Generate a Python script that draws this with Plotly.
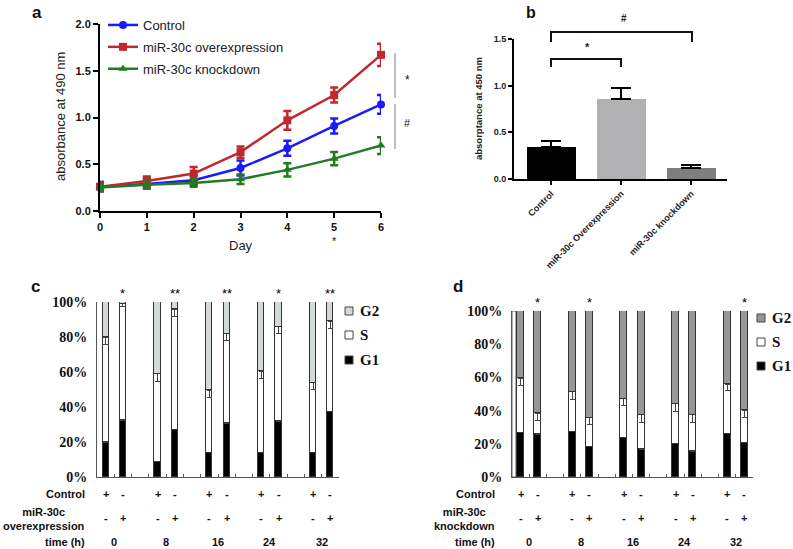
import plotly.graph_objects as go

W, H = 793, 549
def px(x): return x / W
def py(y): return 1 - y / H

SANS = "Liberation Sans, Arial, sans-serif"
SERIF = "Liberation Serif, Times New Roman, serif"

# ---------- Panel a data ----------
days = [0, 1, 2, 3, 4, 5, 6]
a_control = [0.26, 0.29, 0.33, 0.46, 0.67, 0.91, 1.14]
a_control_err = [0.05, 0.05, 0.05, 0.08, 0.08, 0.08, 0.10]
a_over = [0.26, 0.32, 0.40, 0.63, 0.97, 1.24, 1.67]
a_over_err = [0.05, 0.05, 0.07, 0.06, 0.10, 0.08, 0.12]
a_kd = [0.25, 0.28, 0.30, 0.34, 0.44, 0.56, 0.70]
a_kd_err = [0.04, 0.04, 0.04, 0.05, 0.07, 0.07, 0.09]
a_names = ["Control", "miR-30c overexpression", "miR-30c knockdown"]

# ---------- Panel b data ----------
b_cats = ["Control", "miR-30c Overexpression", "miR-30c knockdown"]
b_vals = [0.34, 0.86, 0.12]
b_err = [0.07, 0.11, 0.03]

# ---------- Panel c data (ctrl, over for each time) ----------
times = ["0", "8", "16", "24", "32"]
phase_names = ["G1", "S", "G2"]
c_g1 = [20, 32.5, 8.6, 27, 14, 30.6, 14, 32, 14, 37.3]
c_stop = [80, 99, 59, 96, 49.5, 82, 60.5, 86, 54, 89]
c_g1_err = [4, 4, 4, 4, 4, 4, 4, 4, 4, 4]
c_s_err = [4.5, 1.5, 4.5, 4.5, 4, 4, 4, 4, 4, 4]
c_stars = ["", "*", "", "**", "", "**", "", "*", "", "**"]

# ---------- Panel d data ----------
d_g1 = [26.7, 25.7, 27.3, 18.3, 23.7, 16.7, 20.1, 15.5, 26.2, 20.7]
d_stop = [59.5, 38.4, 51.4, 35.7, 47, 37.6, 44, 37.6, 56, 40.2]
d_g1_err = [4, 4.5, 4, 4.5, 4.5, 4.5, 4, 4, 4, 4]
d_s_err = [4.5, 4.5, 4.5, 4, 4, 4.5, 4.5, 4.5, 4, 4.5]
d_stars = ["", "*", "", "*", "", "", "", "", "", "*"]

control_signs = ["+", "-"] * 5
treat_signs = ["-", "+"] * 5

fig = go.Figure()

# ---- Panel a ----
a_series = [(a_control, a_control_err, "#1a1aff", "circle"),
            (a_over, a_over_err, "#c0282d", "square"),
            (a_kd, a_kd_err, "#237b23", "triangle-up")]
for name, (vals, err, col, sym) in zip(a_names, a_series):
    fig.add_trace(go.Scatter(
        x=days, y=vals, name=name, mode="lines+markers",
        line=dict(color=col, width=2.5),
        marker=dict(color=col, size=8, symbol=sym),
        error_y=dict(type="data", array=err, color=col, thickness=2.5, width=4),
        xaxis="x", yaxis="y", legendgroup=name, cliponaxis=False))

# ---- Panel b ----
fig.add_trace(go.Bar(
    x=[0, 1, 2], y=b_vals, width=0.7,
    marker=dict(color=["#000000", "#b1b1b4", "#7f7f7f"], line=dict(width=0)),
    error_y=dict(type="data", symmetric=False, array=b_err,
                 arrayminus=[0, 0, 0], color="black", thickness=2, width=10),
    xaxis="x2", yaxis="y2", showlegend=False))

# ---- Panels c and d (stacked) ----
pos = []
for i in range(len(times)):
    pos += [3 * i, 3 * i + 1]

def add_stack(g1, stop, g1e, se, xa, ya, cols, bw):
    s = [t - g for t, g in zip(stop, g1)]
    g2 = [100 - t for t in stop]
    ln = dict(color="#333333", width=1)
    fig.add_trace(go.Bar(x=pos, y=g1, name=phase_names[0], width=bw,
                         marker=dict(color=cols[0], line=ln),
                         error_y=dict(type="data", symmetric=False, array=g1e,
                                      arrayminus=[0] * len(g1), color="#444",
                                      thickness=1, width=2.5),
                         xaxis=xa, yaxis=ya, showlegend=False))
    fig.add_trace(go.Bar(x=pos, y=s, name=phase_names[1], width=bw,
                         marker=dict(color=cols[1], line=ln),
                         error_y=dict(type="data", symmetric=False, array=[0] * len(s),
                                      arrayminus=se, color="#444",
                                      thickness=1, width=2.5),
                         xaxis=xa, yaxis=ya, showlegend=False))
    fig.add_trace(go.Bar(x=pos, y=g2, name=phase_names[2], width=bw,
                         marker=dict(color=cols[2], line=ln),
                         xaxis=xa, yaxis=ya, showlegend=False))

c_cols = ["black", "white", "#d3d8da"]
d_cols = ["black", "white", "#979797"]
add_stack(c_g1, c_stop, c_g1_err, c_s_err, "x3", "y3", c_cols, 0.36)
add_stack(d_g1, d_stop, d_g1_err, d_s_err, "x4", "y4", d_cols, 0.4)

ann = []
def A(text, x, y, size=11, font=SANS, bold=True, xanchor="center", xref="paper",
      yref="paper", angle=0, color="#111", yanchor="middle"):
    ann.append(dict(text=text, x=x, y=y, xref=xref, yref=yref, showarrow=False,
                    xanchor=xanchor, yanchor=yanchor, textangle=angle,
                    font=dict(family=font, size=size, color=color,
                              weight="bold" if bold else "normal")))

# panel labels
A("a", px(37), py(12), size=17)
A("b", px(531), py(12), size=16)
A("c", px(35), py(286), size=17)
A("d", px(458), py(286), size=17)

# panel a texts
A("absorbance at 490 nm", px(60), py(117), size=13, bold=False, angle=-90, color="#222")
A("Day", px(241), py(245), size=13, bold=False, color="#222")
A("*", 5, py(241), size=11, bold=False, xref="x", color="#111")
A("*", px(407), py(80), size=12, bold=False, color="#111")
A("#", px(407), py(123), size=11, bold=False, color="#111")

# panel b texts
A("absorptance at 450 nm", px(478), py(109), size=9.5, angle=-90, color="#222")
A("#", px(624), py(19), size=10, color="#222")
A("*", px(587), py(47), size=11, color="#222")

shapes = [
    dict(type="line", xref="paper", yref="paper", x0=px(395), x1=px(395),
         y0=py(53), y1=py(98), line=dict(color="#aaaaaa", width=1.5)),
    dict(type="line", xref="paper", yref="paper", x0=px(395), x1=px(395),
         y0=py(104), y1=py(149), line=dict(color="#aaaaaa", width=1.5)),
    dict(type="path", xref="paper", yref="paper",
         path=f"M{px(551)},{py(42)} L{px(551)},{py(32)} L{px(692)},{py(32)} L{px(692)},{py(42)}",
         line=dict(color="#111", width=2)),
    dict(type="path", xref="paper", yref="paper",
         path=f"M{px(551)},{py(67)} L{px(551)},{py(59)} L{px(621)},{py(59)} L{px(621)},{py(67)}",
         line=dict(color="#111", width=2)),
    dict(type="rect", xref="x4", yref="y4", x0=-0.5, x1=-0.27, y0=0, y1=100,
         line=dict(color="#666", width=1), fillcolor="white", layer="below"),
]

# panel c/d row labels and manual legends
for (xr, lx, stars, sy, treat, cols, legx, legy) in [
        ("x3", 87, c_stars, 293, "miR-30c<br>overexpression", c_cols, 349, [311, 335, 360]),
        ("x4", 497, d_stars, 303, "miR-30c<br>knockdown", d_cols, 761, [318, 342, 366])]:
    A("Control", px(lx), py(494), size=11, xanchor="right")
    A(treat, px(lx), py(519), size=11, xanchor="right")
    A("time (h)", px(lx), py(542), size=11, xanchor="right")
    for p, cs, ts, st in zip(pos, control_signs, treat_signs, stars):
        A(cs, p, py(494), size=11, xref=xr)
        A(ts, p, py(518), size=11, xref=xr)
        if st:
            A(st, p, py(sy), size=13, bold=False, xref=xr, color="#000")
    for i, t in enumerate(times):
        A(t, 3 * i + 0.5, py(542), size=11, xref=xr)
    for k, ly in zip([2, 1, 0], legy):
        shapes.append(dict(type="rect", xref="paper", yref="paper",
                           x0=px(legx - 4), x1=px(legx + 4), y0=py(ly + 4), y1=py(ly - 4),
                           fillcolor=cols[k], line=dict(color="#444", width=1)))
        A(phase_names[k], px(legx + 9), py(ly), size=15, font=SERIF, xanchor="left")

tf_a = dict(family=SANS, size=11, color="#111", weight="bold")
tf_b = dict(family=SANS, size=9, color="#222", weight="bold")
tf_c = dict(family=SERIF, size=14, color="#111", weight="bold")

bounds = [k - 0.5 for k in range(15)]

fig.update_layout(
    width=W, height=H, autosize=False,
    margin=dict(l=0, r=0, t=0, b=0, autoexpand=False),
    paper_bgcolor="white", plot_bgcolor="rgba(0,0,0,0)",
    barmode="stack", bargap=0,
    xaxis=dict(domain=[px(100), px(381)], range=[0, 6], anchor="y",
               showline=True, linecolor="black", linewidth=2, ticks="outside",
               ticklen=5, tickwidth=2, tickcolor="black", tickvals=days,
               tickfont=tf_a, showgrid=False, zeroline=False),
    yaxis=dict(domain=[py(211), py(24)], range=[0, 2], anchor="x",
               showline=True, linecolor="black", linewidth=2, ticks="outside",
               ticklen=5, tickwidth=2, tickcolor="black",
               tickvals=[0, 0.5, 1, 1.5, 2], ticktext=["0.0", "0.5", "1.0", "1.5", "2.0"],
               tickfont=tf_a, showgrid=False, zeroline=False),
    xaxis2=dict(domain=[px(514), px(727)], range=[-0.53, 2.51], anchor="y2",
                showline=True, linecolor="black", linewidth=2, ticks="outside",
                ticklen=4, tickwidth=2, tickcolor="black", tickvals=[0, 1, 2],
                ticktext=b_cats, tickangle=-45, tickfont=tf_b,
                showgrid=False, zeroline=False),
    yaxis2=dict(domain=[py(179), py(39)], range=[0, 1.5], anchor="x2",
                showline=True, linecolor="black", linewidth=2, ticks="outside",
                ticklen=4, tickwidth=2, tickcolor="black",
                tickvals=[0, 0.5, 1, 1.5], ticktext=["0.0", "0.5", "1.0", "1.5"],
                tickfont=tf_b, showgrid=False, zeroline=False),
    xaxis3=dict(domain=[px(97), px(339)], range=[-0.5, 13.5], anchor="y3",
                showline=True, linecolor="#555", linewidth=1, ticks="inside",
                ticklen=3, tickcolor="#555", tickvals=bounds, showticklabels=False,
                showgrid=False, zeroline=False),
    yaxis3=dict(domain=[py(477), py(302)], range=[0, 100], anchor="x3",
                showline=True, linecolor="#555", linewidth=1, ticks="",
                tickvals=[0, 20, 40, 60, 80, 100],
                ticktext=["0%", "20%", "40%", "60%", "80%", "100%"],
                tickfont=tf_c, ticklabelstandoff=6, showgrid=False, zeroline=False),
    xaxis4=dict(domain=[px(512), px(753)], range=[-0.5, 13.5], anchor="y4",
                showline=True, linecolor="#555", linewidth=1, ticks="inside",
                ticklen=3, tickcolor="#555", tickvals=bounds, showticklabels=False,
                showgrid=False, zeroline=False),
    yaxis4=dict(domain=[py(477), py(311)], range=[0, 100], anchor="x4",
                showline=True, linecolor="#555", linewidth=1, ticks="",
                tickvals=[0, 20, 40, 60, 80, 100],
                ticktext=["0%", "20%", "40%", "60%", "80%", "100%"],
                tickfont=tf_c, ticklabelstandoff=6, showgrid=False, zeroline=False),
    showlegend=True,
    legend=dict(x=px(103), y=py(10), xanchor="left", yanchor="top",
                bgcolor="rgba(0,0,0,0)", font=dict(family=SANS, size=13, color="#222"),
                tracegroupgap=2),
    annotations=ann, shapes=shapes,
)

fig.write_html("out.html", config={"displayModeBar": False},
               post_script="document.body.style.margin='0';document.body.style.padding='0';"
                           "document.body.style.overflow='hidden';")
